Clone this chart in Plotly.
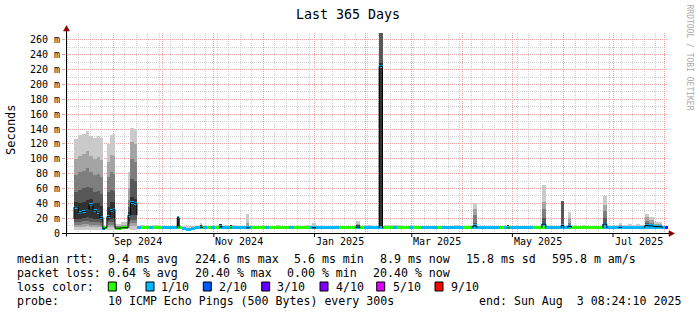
import pandas as pd
import plotly.graph_objects as go

START = pd.Timestamp("2024-08-03 08:24:10")
END = pd.Timestamp("2025-08-03 08:24:10")

# ---------------- data: early period bins and individual spikes ----------------
# start (days after START), width (days)
ev_day = [4.85, 7.45, 9.7, 12.1, 13.9, 16.4, 18.5, 20.6, 22.4, 23.6, 24.8, 26.7, 28.5, 29.7, 33.3, 37.6, 39.1, 41.2,
          67.45, 81.5, 93.3, 99.7, 109.4, 149.1, 175.8, 189.9, 246.7, 267.6, 288.5, 300.3, 304.2, 325.5, 335.2,
          350.9, 353.3, 356.4]
ev_w = [2.6, 2.25, 2.4, 1.8, 2.5, 2.1, 2.1, 1.8, 1.2, 1.2, 1.9, 1.8, 1.2, 3.6, 4.3, 1.5, 2.1, 1.8,
        1.2, 1.2, 1.2, 0.9, 1.8, 2.4, 2.4, 2.0, 2.4, 1.2, 2.4, 1.5, 2.2, 2.4, 1.8,
        2.4, 3.1, 5.1]
# smoke bands (ms): band k spans lo_k .. hi_k (1 = outermost pings, 5 = around the median)
ev_lo1 = [4.5, 4.5, 4.5, 4.5, 4.5, 4.5, 4.5, 4.5, 5, 5, 4.5, 4.5, 4.5, 5, 5, 5, 4.5, 4.5,
          5, 5, 5, 5, 5, 5, 5, 5, 5, 5, 5, 5, 5, 5, 5, 5, 5, 5]
ev_lo2 = [8, 8, 8, 9, 8, 8, 8, 8, 5.5, 5.5, 8, 8, 8, 5.5, 5.5, 7, 9, 9,
          5.5, 5.5, 5.5, 5.5, 5.5, 5.5, 5.5, 5.5, 5.5, 5.5, 5.5, 5.5, 5.5, 5.5, 5.5, 5.5, 5.5, 5.5]
ev_lo3 = [11, 11, 12, 12, 11, 11, 11, 10, 6, 6, 11, 11, 11, 6, 6, 9, 13, 13,
          6, 6, 6, 6, 6, 6, 6, 6, 6, 6, 6, 6, 6, 6, 6, 6, 6, 6]
ev_lo4 = [15, 15, 16, 16, 15, 15, 15, 14, 6, 6, 15, 15, 15, 6, 6, 12, 18, 18,
          6.5, 6.5, 6.5, 6.5, 6.5, 6.5, 6.5, 6.5, 6.5, 6.5, 6.5, 6.5, 6.5, 6.5, 6.5, 6.5, 6.5, 6.5]
ev_lo5 = [19, 19, 20, 21, 20, 19, 19, 17, 6.5, 6.5, 18, 19, 20, 6.5, 6.5, 16, 24, 24,
          7, 7, 7, 7, 7, 7, 7, 7, 7, 7, 7, 7, 7, 7, 7, 7, 7, 7]
ev_hi1 = [126, 132, 133, 137, 130, 128, 130, 128, 9, 9, 120, 132, 133, 12, 15, 82, 141, 140,
          22, 14, 12, 11, 26, 14, 16.5, 340, 40, 11, 65, 43.5, 28.7, 50, 13.5, 25.6, 22, 15]
ev_hi2 = [100, 104, 106, 110, 104, 100, 102, 98, 8, 8, 95, 105, 104, 10, 11, 60, 123, 120,
          22, 11, 12, 11, 14, 10, 12, 320, 32, 11, 42, 43.5, 20, 38, 11, 21, 17, 12]
ev_hi3 = [78, 82, 84, 88, 82, 78, 80, 75, 7, 7, 75, 82, 80, 9, 10, 45, 100, 96,
          22, 11, 12, 11, 10, 9, 11, 300, 24, 11, 32, 43.5, 14, 29, 10, 16, 13, 11]
ev_hi4 = [55, 58, 60, 62, 60, 55, 56, 52, 6, 7, 55, 58, 56, 8, 9, 35, 73, 70,
          22, 11, 12, 11, 9, 9, 11, 280, 13, 11, 20, 43.5, 11, 20, 9, 14, 11, 10]
ev_hi5 = [42, 40, 42, 44, 46, 40, 40, 36, 6, 7, 35, 42, 42, 7, 8, 28, 48, 46,
          22, 11, 12, 11, 8, 8, 11, 229, 11, 11, 14, 12, 10, 14, 9, 12, 10, 9]
ev_med = [35, 27, 29, 31, 38, 30, 28, 21, 5.5, 7, 22, 30, 32, 6.5, 7, 24, 41, 40,
          20.5, 8, 9, 7, 7, 7, 8, 224.6, 9.5, 7, 12, 10, 9, 12, 7.5, 10, 9.5, 8.5]
ev_loss = [1, 1, 1, 1, 1, 1, 1, 1, 1, 0, 1, 1, 1, 0, 0, 1, 1, 1,
           1, 1, 1, 0, 1, 1, 1, 1, 1, 0, 1, 1, 1, 1, 1, 1, 1, 1]

# ---------------- data: regular bins (2.5 days) from day 43 ----------------
base_day0 = 43.0
base_w = 2.5
base_floor = 5.5
base_top = [10, 11, 10, 10, 11, 10, 10, 10, 10, 10,
            10, 10, 10, 10, 10, 11, 10, 10, 10, 10,
            10, 11, 10, 11, 10, 10, 10, 10, 10, 10,
            10, 10, 10, 10, 11, 10, 10, 10, 10, 10,
            10, 11, 11, 10, 10, 10, 10, 10, 10, 10,
            10, 10, 10, 10, 10, 10, 11, 10, 10, 10,
            11, 11, 11, 11, 10, 10, 10, 10, 10, 10,
            10, 10, 10, 10, 10, 10, 10, 11, 10, 10,
            10, 11, 10, 10, 10, 10, 10, 10, 10, 10,
            10, 10, 10, 10, 10, 10, 10, 10, 10, 10,
            10, 10, 10, 10, 11, 10, 10, 10, 11, 10,
            10, 10, 10, 10, 10, 10, 11, 10, 11, 12,
            11, 12, 11, 10, 12, 11, 11, 10, 10]
base_med = [7, 7, 7, 7, 7, 7, 7, 7, 7, 7,
            7, 6, 5, 6, 7, 7, 7, 7, 7, 7,
            7, 7, 7, 7, 7, 7, 7, 7, 7, 7,
            7, 7, 7, 7, 7, 7, 7, 7, 7, 7,
            7, 7, 7, 7, 7, 7, 7, 7, 7, 7,
            7, 7, 7, 7, 7, 7, 7, 7, 7, 7,
            7, 7, 7, 7, 7, 7, 7, 7, 7, 7,
            7, 7, 7, 7, 7, 7, 7, 7, 7, 7,
            7, 7, 7, 7, 7, 7, 7, 7, 7, 7,
            7, 7, 7, 7, 7, 7, 7, 7, 7, 7,
            7, 7, 7, 7, 7, 7, 7, 7, 7, 7,
            7, 7, 7, 7, 7, 7, 7, 7, 7, 8,
            8, 8, 8, 8, 8, 8, 8, 8, 8]
base_loss = [1, 0, 0, 1, 0, 0, 1, 1, 1, 1,
             0, 1, 1, 1, 1, 0, 1, 0, 1, 0,
             1, 1, 1, 1, 1, 1, 1, 1, 0, 0,
             0, 1, 0, 0, 0, 0, 0, 1, 0, 0,
             0, 0, 1, 1, 1, 1, 1, 1, 1, 0,
             0, 0, 0, 0, 0, 1, 1, 1, 1, 1,
             0, 0, 1, 0, 0, 0, 1, 0, 0, 1,
             1, 1, 1, 0, 1, 1, 1, 1, 1, 0,
             0, 1, 1, 1, 1, 1, 1, 1, 0, 1,
             1, 1, 1, 1, 1, 1, 0, 0, 0, 1,
             1, 1, 1, 1, 1, 0, 0, 0, 0, 0,
             0, 0, 0, 1, 1, 1, 1, 1, 1, 1,
             1, 1, 1, 1, 1, 1, 1, 1, 3]

loss_keys = [0, 1, 2, 3, 4, 5, 9]
loss_labels = ["0", "1/10", "2/10", "3/10", "4/10", "5/10", "9/10"]
loss_hex = ["#26ff00", "#00b8ff", "#0059ff", "#5e00ff", "#7e00ff", "#dd00ff", "#ff0000"]

y_ticks = [20, 40, 60, 80, 100, 120, 140, 160, 180, 200, 220, 240, 260]
y_tick_text = ["20 m", "40 m", "60 m", "80 m", "100 m", "120 m", "140 m", "160 m",
               "180 m", "200 m", "220 m", "240 m", "260 m"]
y_zero_text = "0"
x_label_months = ["2024-09", "2024-11", "2025-01", "2025-03", "2025-05", "2025-07"]
x_labels = ["Sep 2024", "Nov 2024", "Jan 2025", "Mar 2025", "May 2025", "Jul 2025"]

row_rtt = ["median rtt:", "9.4 ms avg", "224.6 ms max", "5.6 ms min", "8.9 ms now", "15.8 ms sd", "595.8 m am/s"]
row_loss = ["packet loss:", "0.64 % avg", "20.40 % max", "0.00 % min", "20.40 % now"]
row_probe = ["probe:", "10 ICMP Echo Pings (500 Bytes) every 300s", "end: Sun Aug\u00a0\u00a03 08:24:10 2025"]

# ---------------- styling / geometry ----------------
W, H = 697, 315
L, R, T, B = 66, 29, 33, 82
PW, PH = W - L - R, H - T - B
YMAX = 269.4
DAY_MS = 86400000
MED_HALF = 2.0
SMOKE = ["#cacaca", "#a4a4a4", "#7e7e7e", "#585858", "#323232"]
MAJOR = "#eaa2a2"
MINOR = "#d0d0d0"
MONO = "DejaVu Sans Mono"
lc = dict(zip(loss_keys, loss_hex))


def when(d):
    return START + pd.to_timedelta(d, unit="D")


def PX(x):
    return (x - L) / PW


def py(y):
    return (T + PH - y) / PH


fig = go.Figure()


def add_bars(starts, widths, lows, highs, colors):
    xs, bs, hs, ws, cs = [], [], [], [], []
    for s, w, lo, hi, c in zip(starts, widths, lows, highs, colors):
        if hi is None or hi <= lo:
            continue
        xs.append(when(s + w / 2))
        bs.append(lo)
        hs.append(hi - lo)
        ws.append(w * DAY_MS)
        cs.append(c)
    fig.add_trace(go.Bar(x=xs, y=hs, base=bs, width=ws,
                         marker=dict(color=cs, line=dict(width=0)),
                         hoverinfo="skip", showlegend=False))


n_base = len(base_top)
base_start = [base_day0 + i * base_w for i in range(n_base)]
base_wid = [base_w] * n_base

# baseline smoke
add_bars(base_start, base_wid, [base_floor] * n_base, base_top, [SMOKE[0]] * n_base)

# event smoke, outer to inner
lows = [ev_lo1, ev_lo2, ev_lo3, ev_lo4, ev_lo5]
highs = [ev_hi1, ev_hi2, ev_hi3, ev_hi4, ev_hi5]
for k in range(5):
    add_bars(ev_day, ev_w, lows[k], highs[k], [SMOKE[k]] * len(ev_day))

# black median connector for the event bins
bx, by = [], []
prev_end, prev_foot = None, None
for d, w, m, f in zip(ev_day, ev_w, ev_med, ev_lo5):
    s, e = d, d + w
    if prev_end is not None and abs(s - prev_end) < 0.05:
        bx += [when(s), when(s), when(e)]
        by += [by[-1], m, m]
    else:
        if prev_end is not None:
            bx += [when(prev_end), None]
            by += [prev_foot, None]
        bx += [when(s), when(s), when(e)]
        by += [f, m, m]
    prev_end, prev_foot = e, f
bx += [when(prev_end)]
by += [prev_foot]
fig.add_trace(go.Scatter(x=bx, y=by, mode="lines", line=dict(color="black", width=1),
                         hoverinfo="skip", showlegend=False, connectgaps=False))

# median lines coloured by loss
add_bars(base_start, base_wid, [m - MED_HALF for m in base_med], [m + MED_HALF for m in base_med],
         [lc[v] for v in base_loss])
add_bars(ev_day, ev_w, [m - MED_HALF for m in ev_med], [m + MED_HALF for m in ev_med],
         [lc[v] for v in ev_loss])

month_starts = list(pd.date_range("2024-09-01", "2025-08-01", freq="MS"))

fig.update_layout(
    width=W, height=H, autosize=False,
    margin=dict(l=L, r=R, t=T, b=B, pad=0),
    paper_bgcolor="white", plot_bgcolor="white",
    barmode="overlay", bargap=0,
    showlegend=False,
    xaxis=dict(type="date", range=[START, END], showline=False, zeroline=False,
               tickmode="array", tickvals=month_starts, ticktext=[""] * len(month_starts),
               showticklabels=False, ticks="",
               showgrid=True, gridcolor=MAJOR, griddash="1px,1px", gridwidth=1,
               minor=dict(tickmode="linear", tick0="2024-08-04", dtick=7 * DAY_MS, showgrid=True,
                          gridcolor=MINOR, griddash="1px,1px", gridwidth=1, ticks=""),
               fixedrange=True),
    yaxis=dict(range=[0, YMAX], showline=False, zeroline=False,
               tickmode="array", tickvals=y_ticks, ticktext=y_tick_text,
               ticks="outside", ticklen=3, tickcolor=MAJOR, tickwidth=1,
               tickfont=dict(family=MONO, size=10, color="black"),
               showgrid=True, gridcolor=MAJOR, griddash="1px,1px", gridwidth=1,
               minor=dict(tickmode="linear", tick0=10, dtick=20, showgrid=True,
                          gridcolor=MINOR, griddash="1px,1px", gridwidth=1, ticks=""),
               fixedrange=True),
)

shapes = []
# axes
shapes.append(dict(type="line", xref="paper", yref="paper", x0=PX(62), x1=PX(669), y0=py(233.5), y1=py(233.5),
                   line=dict(color="black", width=1), layer="above"))
shapes.append(dict(type="line", xref="paper", yref="paper", x0=PX(66.5), x1=PX(66.5), y0=py(236.5), y1=py(31),
                   line=dict(color="black", width=1), layer="above"))
ARROW = "#8e0000"
shapes.append(dict(type="path", xref="paper", yref="paper",
                   path=f"M {PX(669)},{py(230.5)} L {PX(674.5)},{py(233.5)} L {PX(669)},{py(236.5)} Z",
                   fillcolor=ARROW, line=dict(color=ARROW, width=0.5), layer="above"))
shapes.append(dict(type="path", xref="paper", yref="paper",
                   path=f"M {PX(63.5)},{py(31)} L {PX(66.5)},{py(25.5)} L {PX(69.5)},{py(31)} Z",
                   fillcolor=ARROW, line=dict(color=ARROW, width=0.5), layer="above"))
# x tick marks at labelled months
for mo in x_label_months:
    t0 = pd.Timestamp(mo + "-01")
    shapes.append(dict(type="line", xref="x", yref="paper", x0=t0, x1=t0, y0=py(234), y1=py(237),
                       line=dict(color="black", width=1), layer="above"))

annotations = []


def ann(text, x, y, size, xanchor="left", angle=0, color="black", xref="paper", yref="paper"):
    annotations.append(dict(text=text, x=x if xref != "paper" else PX(x), y=py(y) if yref == "paper" else y,
                            xref=xref, yref=yref,
                            xanchor=xanchor, yanchor="middle", showarrow=False, textangle=angle,
                            font=dict(family=MONO, size=size, color=color), borderpad=0))


# zero label on the y axis
ann(y_zero_text, 61, 0, 10, xanchor="right", yref="y")

# x labels centred on their month
for mo, lab in zip(x_label_months, x_labels):
    t0 = pd.Timestamp(mo + "-01")
    t1 = t0 + pd.offsets.MonthBegin(1)
    ann(lab, t0 + (t1 - t0) / 2, 241.5, 10, xanchor="center", xref="x")

ann("Last 365 Days", 347.5, 14, 13.3, xanchor="center")
ann("Seconds", 11, 130, 12, xanchor="center", angle=-90)
ann("RRDTOOL / TOBI OETIKER", 689, 57.5, 8, xanchor="center", angle=90, color="#aaaaaa")

LEG = 11.6
rtt_x = [16.7, 107.3, 194.3, 293.3, 379.3, 465, 551.7]
for t, x in zip(row_rtt, rtt_x):
    ann(t, x - 0.5, 258.8, LEG)
loss_x = [16.7, 107.3, 194.3, 286.7, 372.7]
for t, x in zip(row_loss, loss_x):
    ann(t, x - 0.5, 272.8, LEG)
ann("loss color:", 16.2, 286.8, LEG)
box_x = [108.3, 146, 203.3, 261.7, 320, 376.7, 435]
lab_x = [123, 160, 218.3, 276.7, 335, 392.3, 450]
for bxx, lx, col, lab in zip(box_x, lab_x, loss_hex, loss_labels):
    shapes.append(dict(type="rect", xref="paper", yref="paper", x0=PX(bxx), x1=PX(bxx + 8),
                       y0=py(291), y1=py(282), fillcolor=col, line=dict(color="black", width=1)))
    ann(lab, lx - 0.5, 286.8, LEG)
probe_x = [16.7, 107.3, 478.3]
for t, x in zip(row_probe, probe_x):
    ann(t, x - 0.5, 300.8, LEG)

fig.update_layout(shapes=shapes, annotations=annotations)
fig.write_html("out.html")
